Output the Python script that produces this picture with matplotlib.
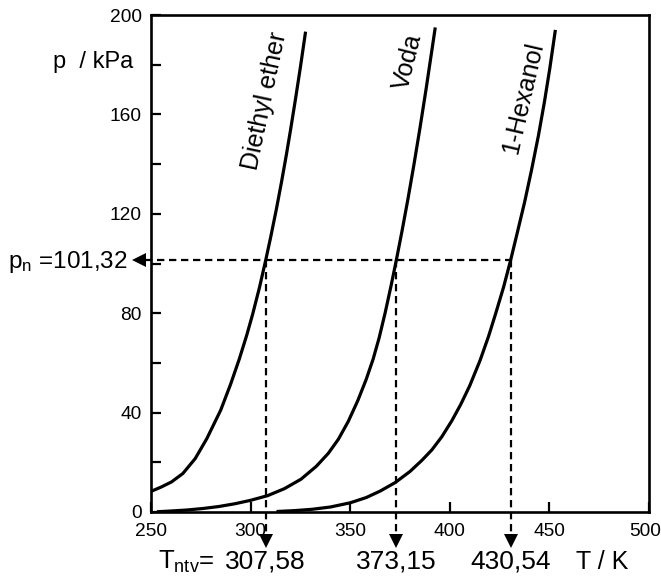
import matplotlib
matplotlib.use("Agg")
import matplotlib.pyplot as plt
from matplotlib.transforms import ScaledTranslation

plt.rcParams["font.family"] = ["Liberation Sans", "DejaVu Sans"]
plt.rcParams["mathtext.fontset"] = "custom"
plt.rcParams["mathtext.rm"] = "Liberation Sans"
plt.rcParams["mathtext.it"] = "Liberation Sans"

# Vapour pressure curves, T in K, p in kPa
ether_T = [250, 255, 260.3, 266, 272.2, 278, 285, 290, 294.3, 298, 301, 304.5,
           307.58, 310, 312.9, 315.5, 317.9, 320, 322.5, 325, 327.6]
ether_p = [8.3, 10.0, 12.1, 15.5, 21.5, 29.5, 41.0, 51.5, 61.5, 71.0, 79.5, 90.5,
           101.32, 110.3, 121.7, 132.7, 143.5, 153.5, 166.0, 179.0, 193.3]

water_T = [253, 260, 268, 276, 284, 292, 300, 308.6, 317, 325.3, 333, 339, 344,
           349, 353.8, 358, 361.5, 364.5, 367.5, 370.5, 373.15, 376, 379, 382,
           385, 388, 391, 392.7]
water_p = [0.1, 0.4, 0.8, 1.4, 2.2, 3.3, 4.7, 6.6, 9.4, 13.2, 18.4, 23.6, 29.2,
           36.4, 44.8, 53.3, 61.5, 70.0, 80.0, 91.0, 101.32, 113.0, 126.0, 139.8,
           154.4, 169.7, 185.8, 195.0]

hexanol_T = [313, 322, 331, 340, 350, 358, 365, 372.5, 380, 386, 391, 396, 401,
             405.5, 410, 415.2, 419.5, 423, 427, 430.54, 434, 437.5, 441, 444.5,
             447.5, 450.2, 453]
hexanol_p = [0.2, 0.55, 1.1, 2.0, 3.7, 5.8, 8.4, 11.8, 16.3, 20.8, 25.0, 30.3,
             36.7, 43.3, 50.8, 61.0, 70.8, 79.8, 90.5, 101.32, 112.8, 124.5, 137.5,
             151.5, 165.0, 178.5, 194.0]

names = ["Diethyl ether", "Voda", "1-Hexanol"]
p_normal = 101.32
boiling_T = [307.58, 373.15, 430.54]
boiling_labels = ["307,58", "373,15", "430,54"]

x_ticks = [250, 300, 350, 400, 450, 500]
y_major = [0, 40, 80, 120, 160, 200]
y_minor = [20, 60, 100, 140, 180]

W, H = 661, 579
fig = plt.figure(figsize=(W / 100, H / 100), dpi=100)
ax = fig.add_axes([151 / W, 1 - 512 / H, 498 / W, 497 / H])

for T, p in [(ether_T, ether_p), (water_T, water_p), (hexanol_T, hexanol_p)]:
    ax.plot(T, p, color="black", lw=2.3, solid_capstyle="butt", solid_joinstyle="round")

ax.set_xlim(250, 500)
ax.set_ylim(0, 200)
for s in ax.spines.values():
    s.set_linewidth(1.9)

ax.set_xticks(x_ticks)
ax.set_xticklabels([str(v) for v in x_ticks])
ax.set_yticks(y_major)
ax.set_yticklabels([str(v) for v in y_major])
ax.set_yticks(y_minor, minor=True)
ax.tick_params(axis="both", which="both", direction="in", length=7, width=1.6,
               labelsize=13.8, colors="black")
ax.tick_params(axis="x", pad=8)
ax.tick_params(axis="y", pad=6.5)

# keep the last x tick label inside the figure
last = ax.get_xticklabels()[-1]
last.set_transform(last.get_transform() + ScaledTranslation(-4 / 100, 0, fig.dpi_scale_trans))

# dashed guide lines at normal pressure
dash = dict(color="black", lw=1.6, dashes=(3.3, 2.1), clip_on=False)
ax.plot([247.0, max(boiling_T)], [p_normal, p_normal], **dash)
for T in boiling_T:
    ax.plot([T, T], [p_normal, -9.5], **dash)
    ax.plot([T], [-11.7], marker="v", ms=10.5, color="black", mew=0, clip_on=False)
ax.plot([244.0], [p_normal], marker="<", ms=10.5, color="black", mew=0, clip_on=False)

# curve names
ax.text(307.2, 165.4, names[0], rotation=78, fontsize=18, ha="center", va="center",
        rotation_mode="anchor")
ax.text(379.0, 181.1, names[1], rotation=76, fontsize=18, ha="center", va="center",
        rotation_mode="anchor")
ax.text(436.7, 166.6, names[2], rotation=77, fontsize=18, ha="center", va="center",
        rotation_mode="anchor")

# axis captions and values
ax.text(220.9, 181.1, "p  / kPa", fontsize=17, ha="center", va="center", clip_on=False)
ax.text(238.5, 100.6, r"p$_{\mathregular{n}}$ =101,32", fontsize=17.5, ha="right",
        va="center", clip_on=False)
ax.text(282.0, -20.1, r"T$_{\mathregular{ntv}}$=", fontsize=18.5, ha="right",
        va="center", clip_on=False)
for T, lab in zip(boiling_T, boiling_labels):
    ax.text(T, -20.1, lab, fontsize=19, ha="center", va="center", clip_on=False)
ax.text(476.4, -20.1, "T / K", fontsize=18, ha="center", va="center", clip_on=False)

fig.savefig("out.png", dpi=100)
